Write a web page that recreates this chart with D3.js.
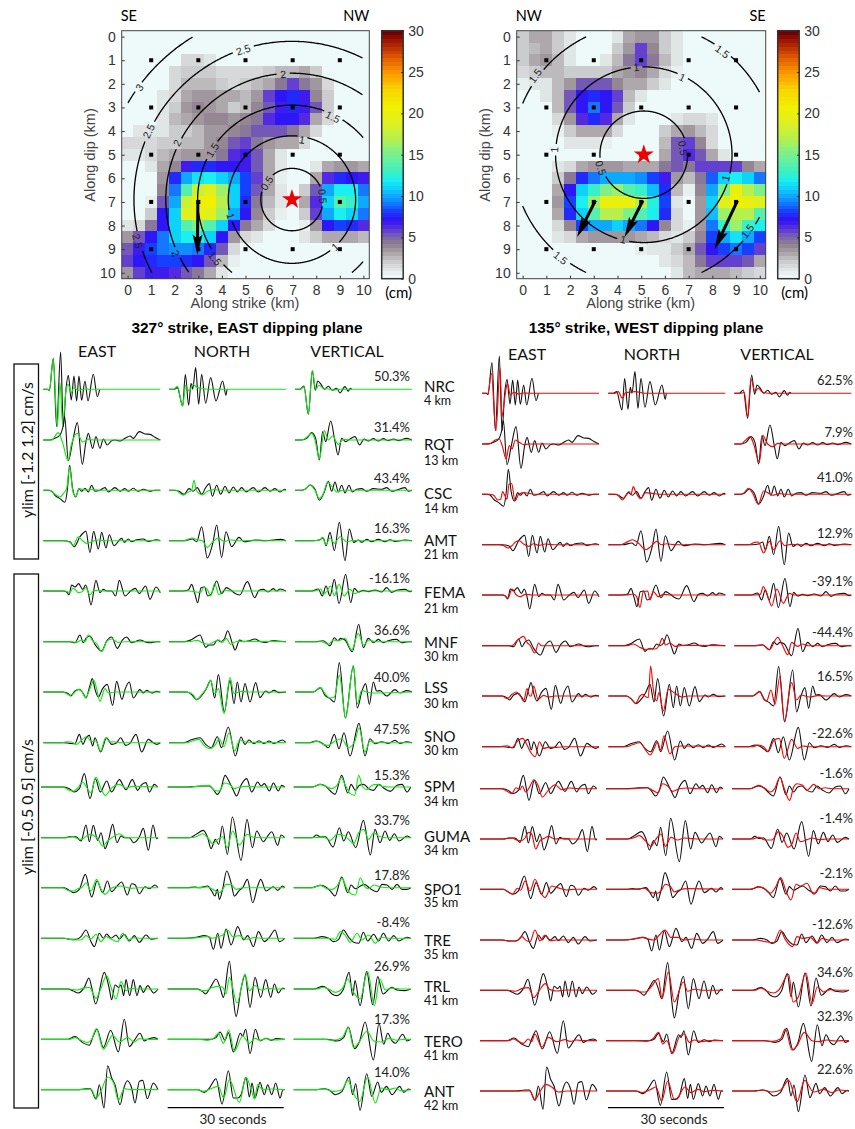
<!DOCTYPE html>
<html>
<head>
<meta charset="utf-8">
<title>Slip models and waveform fits</title>
<script src="https://cdn.jsdelivr.net/npm/d3@7"></script>
<style>
  html, body { margin: 0; background: #fff; }
  svg { display: block; }
</style>
</head>
<body>
<div class="canvas"></div>
<script>
// slip in cm, rows are along dip, columns along strike, 0.5 km grid
const slipEast = [
  [0,0,0,0,0,0,0,0,0,0,0,0,0,0,0,0,0,0,0,0,0],
  [0,0,0,0,0,0,0,0,0,0,0,0,0,0,0,0,0,0,0,0,0],
  [0,0,0,0,0,1.5,1.5,1,0,0,0,0,0,0,0,0,0,0,0,0,0],
  [0,0,0,0,1.5,2,2,2,1.5,1.5,1.5,1.5,2,2.5,2.5,3,2,0,0,0,0],
  [0,0,0,0,1.5,2.5,2.5,2.5,2,1.5,2,2.5,3,4.5,5.5,4.5,3.5,1.5,0,0,0],
  [0,0,0,1,1.5,3,3.5,3.5,3,3,2.5,3.5,5.5,7,7.5,6.5,4,2,0,0,0],
  [0,0,0,1,2,3.5,3.8,3.5,3,2,2.5,4,5,6.5,7.5,6.5,5,2,0,0,0],
  [0,0,0,1,2.5,3,3.5,4,4,3.5,4,4.5,6,7,7,6,3,1.5,0,0,0],
  [0,1,1,1,2,2,2.5,3.5,3.5,4,4.5,5,5,5,4.5,3,1.5,0,0,0,0],
  [1.2,1.2,1.5,2,2,2.5,2.5,3.5,4,5,5.5,4.5,3.5,3,3,1.5,0,0,0,0,0],
  [1,1,1.5,2.5,3,3.5,3.5,3.5,4.5,6,6.5,5,3,1,0,0,0,0,0,0,0],
  [0,0,1,3,4,6.5,7.5,7.5,7,7,6.5,5,3,1,0,0,1,3,3.5,3.5,3],
  [0,0,0,3.5,7.5,10,11.5,12,11,10,8,5.5,3,0.5,0,0,3,6,7.5,7,6.5],
  [0,0,0,4,9,14,18,19,16,11,8,5,3,1,0,2,5,10,12,12,9],
  [0,0,0.5,5,10,18,20,21,17,11,7.5,4.5,2.5,1,0,3,6,11,14,13,10],
  [0,0,2,7,11,19,20,19,16,10,7,4,2,0.5,0,2,5.5,10,12,11,9],
  [1,1.5,4.5,7,11,14,15,14,11,7,4.5,3,1.5,0,0,0.5,3.5,7,8,7.5,6],
  [3.5,5,7,9,11,12,12,11,7,3.5,1.5,1,0,0,0,1,2,3,3,3,2.5],
  [5,6.5,8,9,9.5,9.5,9,7.5,5,1.5,0,0,0,0,0,0,0,0,0,0,0],
  [5.5,7,7.5,8,8,7.5,7,5,2.5,0.5,0,0,0,0,0,0,0,0,0,0,0],
  [3.5,5.5,6.5,6.5,6,5,4.5,3,1,0,0,0,0,0,0,0,0,0,0,0,0]
];
const slipWest = [
  [2,3,3,2,1,0,0,0,1,3,3.5,3.5,2,1,0,0,0,0,0,0,0],
  [2,2.5,3,2,1,0,0,0,2,3.5,5.5,4,2,1,0,0,0,0,0,0,0],
  [2,3,3.5,2.5,1,0,0,1,2.5,4.5,5.5,4.5,2.5,1,0,0,0,0,0,0,0],
  [1.5,2,2.5,2.5,2,2,2,2,3,3.5,4,3,1.5,0.5,0,0,0,0,0,0,0],
  [0.5,1,1,2.5,3.5,5,5,5,4,3,3,2,1,0,0,0,0,0,0,0,0],
  [0,0,1,2.5,5,7,7.5,7,5.5,2.5,1,0,0,0,0,0,0,0,0,0,0],
  [0,0,0,2.5,5,7,9,7,5,2,0,0,0,0,0,0,0,0,0,0,0],
  [0,0,0,1.5,3.5,6,7.5,6,3,1,0,0,0,1,1.5,1.5,1,0,0,0,0],
  [0,0,0,0.5,2,3,3,3,1.5,0,0,0,2,3,3.5,2.5,1.5,0,0,0,0],
  [0,0,0,0,1,1,1,0.5,0,0,0,0,2.5,5,5.5,4,1.5,0,0,0,0],
  [0,0,0,0,0,0,0,0,0,0,0,0,3,5,6,5,3,1,0,0,0],
  [0,0,0,1,1.5,3,3.5,3.5,3.5,3,3,3,4.5,5,4.5,5.5,5.5,5.5,5.5,4,3],
  [0,0,0,2,4.5,7.5,9,10,10,10,9.5,8,6.5,3.5,2.5,4.5,8.5,11,12,11,9],
  [0,0,0,3,7,11,13,15,16,14,13,10.5,7.5,2.5,0.5,4,10,15,20,17,15],
  [0,0,0,3.5,8,12,16,20,20,20,17,12.5,8,1,0,3.5,11,19,21,20,19],
  [0,0,0,3,7.5,11,14,17,17,15,14,12,7.5,1.5,0,3.5,10.5,16,17,17,14],
  [0,0,0,1.5,4,8,10,10,11,10,9,7,4,1.5,0.5,3.5,9,13,16,13,12],
  [0,0,0,1,1.5,3,3.5,3.5,3.5,3.5,3,2.5,1.5,1,2,4,8,10,11.5,10,8],
  [0,0,0,0,0,0,0,0,0,0,0.5,1,1,2,3,5,7,8,9,8,5.5],
  [0,0,0,0,0,0,0,0,0,0,0,0,1,1.5,2.5,4.5,5.5,5.5,5.5,5,3],
  [0,0,0,0,0,0,0,0,0,0,0,0,0,1,2.5,3,3,3,2.5,2,1.5]
];

const kmTicks = [0,1,2,3,4,5,6,7,8,9,10];
const slipTicks = [0,5,10,15,20,25,30];
const nodeKm = [1,3,5,7,9];
// rupture time contours (s) and their radius on the fault (km)
const ringTimesEast = [0.5,1,1.5,2,2.5,3];
const ringRadiiEast = [1.32,2.7,4,5.35,6.7,8.07];
const ringTimesWest = [0.5,1,1.5];
const ringRadiiWest = [1.85,3.72,5.55];
// contour label: time, along strike, along dip
const ringLabelsEast = [[3,0.5,2.15],[2.5,0.9,4],[2.5,4.9,0.56],[2.5,0.42,8.66],[2,2.1,4.5],[2,6.6,1.6],[2,2.04,9.18],
  [1.5,3.6,4.8],[1.5,8.7,3.4],[1.5,3.7,9.4],[1,7.4,4.37],[1,4.37,7.6],[1,8.8,8.9],[0.5,5.9,6.2],[0.5,8.27,6.76]];
const ringLabelsWest = [[1.5,0.53,1.66],[1,4.8,1.3],[1,6.73,1.73],[1.5,8.42,0.63],[0.5,6.76,4.72],[1,1.34,4.79],
  [0.5,3.3,5.56],[1,8.56,5.99],[1.5,9.48,8.24],[1,4.24,8.59],[1.5,1.6,9.37]];
// hypocentre and slip vectors, km
const hypoEast = [6.97,6.9];
const hypoWest = [5.11,5];
const slipVecEast = [[2.98,6.94,2.96,9.23]];
const slipVecWest = [[3.07,6.94,2.3,8.48],[5.07,6.94,4.3,8.48],[9.06,6.94,8.1,8.99]];

const stations = ['NRC','RQT','CSC','AMT','FEMA','MNF','LSS','SNO','SPM','GUMA','SPO1','TRE','TRL','TERO','ANT'];
const distances = [4,13,14,21,21,30,30,30,34,34,35,35,41,41,42];
const fitEast = ['50.3%','31.4%','43.4%','16.3%','-16.1%','36.6%','40.0%','47.5%','15.3%','33.7%','17.8%','-8.4%','26.9%','17.3%','14.0%'];
const fitWest = ['62.5%','7.9%','41.0%','12.9%','-39.1%','-44.4%','16.5%','-22.6%','-1.6%','-1.4%','-2.1%','-12.6%','34.6%','32.3%','22.6%'];

// waveforms digitised off a 3x blowup as t,amp,t,amp... turning points
// t: 345 units = 30 s. amp: 3 units = 1 pixel of trace height
const obsE = [
  [0,0,12,0,18,-4,30,92,40,-112,52,112,60,-112,68,0,75,42,84,-32,92,40,100,-35,107,40,115,-33,125,25,134,-35,150,45,162,-22,169,0],
  [0,0,20,0,35,5,50,15,60,45,64,70,75,-62,88,-5,102,52,117,-73,128,-5,135,20,148,-25,158,10,170,-25,180,3,192,-15,205,-2,215,0,230,-3,245,5,260,12,270,5,288,25,305,18,320,17,335,8,351,0],
  [0,0,15,0,25,-3,35,-15,50,-25,65,-36,72,0,79,75,88,5,97,-20,107,5,115,-3,125,6,135,-5,145,15,155,-3,170,0,185,8,195,-5,215,8,230,-3,245,5,255,-3,270,6,285,-3,300,3,320,-3,335,0,351,0],
  [0,0,60,0,80,-3,93,-18,110,12,128,28,140,-36,151,28,165,-25,175,25,188,-22,198,18,212,-15,235,7,243,-5,255,5,265,-3,280,3,300,5,315,-2,340,3,351,0],
  [0,0,60,0,70,-3,77,-12,85,18,95,12,106,22,118,5,127,18,135,-5,143,-42,158,32,170,-5,180,5,190,0,205,0,217,-15,228,32,245,-15,262,0,276,8,288,-8,307,15,320,-25,338,12,351,-5],
  [0,0,80,0,95,-3,110,20,120,-3,128,10,140,17,155,-8,175,-28,190,2,205,14,222,-20,237,5,250,14,265,-3,275,0,290,5,310,-2,320,-3,340,0,351,0],
  [0,0,60,0,75,-5,82,-12,95,3,108,8,120,-5,128,-18,140,20,147,40,156,5,165,-15,178,10,192,23,208,-40,220,32,236,-22,246,10,258,30,270,-18,290,7,300,-3,310,5,325,-3,340,2,351,0],
  [0,0,60,0,80,-2,95,-3,108,25,119,-5,127,12,138,22,148,-10,155,15,172,-28,190,15,205,-5,220,0,232,15,247,-8,260,-2,278,25,295,-28,315,10,330,0,340,-5,351,0],
  [0,0,70,0,85,-5,99,-15,115,-5,130,40,147,-35,163,25,178,-15,197,18,212,-15,235,22,255,-8,274,22,290,-10,300,5,315,13,325,-15,340,8,350,0],
  [0,0,70,0,85,3,105,3,120,-10,135,38,145,-12,157,37,170,-8,180,15,192,-33,203,-5,215,40,228,-15,240,5,250,0,265,0,278,-15,295,2,307,28,322,-38,336,38,347,-3,351,0],
  [0,0,70,0,85,-8,99,-15,115,-5,133,40,152,-28,168,20,185,-15,199,20,212,-12,228,5,242,17,259,-22,272,12,283,8,295,-18,312,3,325,-3,342,8,351,0],
  [0,0,70,0,85,-3,105,-3,120,5,135,25,150,-10,160,-25,175,15,187,0,197,13,210,0,225,10,235,-2,250,12,265,-8,280,8,295,-12,315,10,330,-3,350,0],
  [0,0,80,0,95,-5,112,-12,130,5,144,33,152,5,164,-45,190,50,205,0,212,-32,222,12,233,5,240,12,248,-20,255,28,266,-20,277,28,288,-20,297,10,307,-10,320,10,338,-12,351,0],
  [0,0,80,0,102,8,125,-10,145,-18,155,5,168,30,187,-25,209,27,232,-38,250,60,265,-22,280,-3,297,18,310,-5,320,0,340,5,351,0],
  [0,0,110,0,135,3,148,3,165,-28,175,15,189,-55,200,72,212,35,222,15,237,-45,250,10,259,27,272,5,282,-40,295,25,305,28,319,-27,337,20,351,0]
];
const obsN = [
  [0,0,15,0,25,5,41,-50,49,44,59,-48,66,18,71,0,80,65,89,-45,98,45,110,-42,125,35,141,-35,161,25,171,-18,174,0],
  null,
  [0,0,15,0,30,-3,45,-12,60,5,72,-3,85,8,98,-12,110,8,121,20,130,-18,143,15,155,-12,168,12,180,-8,193,10,205,-5,218,8,231,-5,253,8,268,-5,288,8,303,-3,318,5,333,-5,348,3,351,0],
  [0,0,45,0,70,5,83,-3,98,42,115,-52,132,-5,143,47,158,-50,171,27,188,-18,210,10,225,-3,260,2,290,0,335,4,351,0],
  [0,0,40,0,58,3,68,20,78,-10,86,-35,96,10,107,12,116,-15,126,-10,143,30,158,-8,172,10,185,3,195,-5,212,-12,235,28,257,-20,270,2,283,5,297,-3,313,7,323,0,333,6,351,0],
  [0,0,45,0,65,5,93,20,110,-17,120,-10,133,-10,145,5,155,0,166,8,176,33,190,-5,198,-25,212,5,225,0,240,3,258,8,275,0,290,-2,310,3,325,2,351,0],
  [0,0,55,0,70,-10,83,-23,100,-8,112,10,125,35,137,-18,148,52,166,-60,183,35,195,-35,205,30,216,-30,228,25,243,-30,260,28,273,-17,290,3,300,-3,315,5,330,-2,351,0],
  [0,0,45,0,65,8,93,15,110,-5,127,-15,145,18,157,-15,178,47,199,-40,216,17,228,-5,240,8,255,-3,270,6,285,-3,300,5,315,-2,340,8,351,0],
  [0,0,60,0,100,3,125,3,135,-5,149,-22,160,-5,172,35,185,15,197,-10,207,-27,220,5,237,25,252,-15,270,15,280,3,290,10,305,-12,317,12,332,-12,342,5,351,0],
  [0,0,65,0,85,10,107,22,120,0,130,-33,143,-5,153,-20,164,35,179,-50,194,62,220,-68,238,55,254,-30,267,20,287,-12,300,5,312,18,330,-23,340,8,351,0],
  [0,0,60,0,80,2,95,0,120,5,132,-10,142,-25,149,-5,155,-35,165,-3,177,50,190,15,200,-25,215,-8,225,0,239,25,255,-45,270,5,279,25,295,-10,317,3,330,-8,345,5,351,0],
  [0,0,50,0,85,3,110,8,125,3,137,-33,150,15,160,-30,175,28,190,-20,210,35,228,-5,240,8,257,-25,272,20,290,-10,305,3,322,25,335,-10,351,0],
  [0,0,90,0,105,-8,113,-15,130,8,145,30,157,5,167,-25,185,83,197,-30,205,-83,220,0,232,42,247,-55,262,35,279,-25,294,28,309,-25,320,15,332,-12,345,3,351,0],
  [0,0,90,0,130,0,145,5,157,22,172,-3,182,20,197,-38,218,18,225,10,234,30,247,-43,263,30,277,-5,295,3,310,-3,325,2,351,0],
  [0,0,90,0,110,-8,125,5,145,33,163,-43,182,57,197,-25,210,-25,220,-15,235,37,245,-22,253,20,262,-25,277,22,290,-15,300,15,312,-15,324,20,337,-25,346,0,351,0]
];
const obsV = [
  [0,0,15,0,27,10,40,-75,52,55,61,-3,68,25,78,15,88,0,100,9,112,-3,125,3,135,-11,150,8,160,-6,166,3,170,0],
  [0,0,20,0,35,5,50,22,62,5,73,-60,83,25,92,-5,107,57,120,-5,129,-45,140,5,152,-5,165,3,180,10,194,-15,207,3,220,-3,235,4,250,-3,265,4,280,-2,295,3,310,-2,335,5,351,0],
  [0,0,20,0,30,3,45,16,60,3,73,-30,88,-5,100,27,110,-3,120,25,130,-5,140,15,150,-8,162,15,172,-5,185,3,200,5,215,-3,235,5,260,3,275,8,290,-3,330,8,340,-3,351,0],
  [0,0,55,0,75,3,85,8,93,-15,105,25,118,-30,133,55,150,-60,163,35,176,-5,190,2,200,-5,215,4,230,-3,250,4,270,-3,285,3,300,-2,330,2,351,0],
  [0,0,50,0,70,6,82,-15,93,15,105,-15,118,35,132,-38,152,50,167,-35,178,8,190,-3,205,2,220,-2,240,3,260,-3,275,10,290,-4,305,2,330,5,345,-2,351,0],
  [0,0,60,0,85,3,105,-12,118,12,128,3,137,10,150,5,172,-30,191,52,205,-18,220,10,235,-3,250,7,265,-3,280,3,305,7,320,-3,340,0,351,0],
  [0,0,55,0,62,3,76,13,90,-10,105,-20,118,-30,133,88,151,-78,175,78,187,-48,200,0,212,25,223,-37,235,30,245,3,255,4,275,-12,300,7,315,-3,335,4,351,0],
  [0,0,45,0,62,5,75,2,90,-8,100,-15,118,25,132,-18,147,30,165,-40,192,58,210,-40,225,12,240,-3,260,3,280,-2,300,7,315,-2,335,3,351,0],
  [0,0,55,0,80,8,95,3,110,-12,124,-22,144,35,162,-18,172,8,185,-10,197,5,210,8,225,-5,240,-10,255,8,270,-3,290,-13,310,5,325,8,340,-15,351,0],
  [0,0,55,0,69,8,80,2,95,3,118,-28,137,30,150,-10,164,18,186,-30,209,52,230,-52,244,25,259,-15,274,20,288,-8,302,12,316,-10,340,5,351,0],
  [0,0,55,0,80,7,95,3,110,-10,124,-25,144,32,162,-15,172,8,185,-3,200,5,212,10,230,-3,250,-12,265,10,280,8,295,-5,310,10,325,-5,340,-5,351,0],
  [0,0,60,0,85,5,105,0,120,-10,135,-3,149,25,165,3,180,-12,195,-15,209,18,222,-8,240,12,255,-8,269,15,285,-8,300,8,315,-8,340,3,351,0],
  [0,0,60,0,87,8,100,2,115,-15,129,-20,148,-3,166,50,177,-20,184,25,199,-50,219,52,237,-47,252,37,268,-15,294,5,310,-3,334,-5,351,0],
  [0,0,70,0,100,0,130,-5,150,5,164,37,183,-28,198,-5,214,52,239,-62,256,48,270,-15,282,18,295,-5,305,-12,327,15,340,-5,351,0],
  [0,0,65,0,90,3,105,0,125,-15,145,-5,166,38,177,-15,186,18,199,-62,219,48,234,-20,252,23,263,-8,278,10,295,-15,318,10,330,-8,345,2,351,0]
];
// synthetics, east dipping plane (green)
const eastE = [
  [0,0,12,0,18,-4,30,92,42,-112,50,20,58,-105,68,-5,74,15,84,-10,92,5,105,-3,125,1,140,0,351,0],
  [0,0,25,0,45,22,58,-8,74,-62,84,-15,102,20,118,-6,135,2,150,0,351,0],
  [0,0,20,0,35,-12,50,-20,60,-10,70,5,79,70,88,0,97,-18,108,5,125,1,150,2,175,0,351,0],
  [0,0,65,0,80,-5,90,-14,105,12,115,3,130,-8,145,-3,165,2,190,0,351,0],
  [0,0,65,0,80,-5,88,8,95,5,105,-5,115,-3,128,10,140,-12,150,0,165,2,185,0,351,0],
  [0,0,80,0,100,-2,115,5,125,0,135,20,150,0,160,-5,175,-30,190,0,205,8,225,-2,250,0,351,0],
  [0,0,60,0,78,-10,90,-5,105,8,115,3,127,-17,140,10,152,35,160,10,170,-28,185,10,195,-3,215,0,351,0],
  [0,0,55,0,70,3,85,2,100,-5,115,8,130,18,145,3,158,5,172,-25,187,15,200,2,212,3,235,0,351,0],
  [0,0,65,0,85,-10,98,-12,110,-3,125,15,138,-3,150,-18,165,30,180,-5,193,-25,210,-5,235,8,255,-3,275,2,351,0],
  [0,0,75,0,95,3,110,-3,122,-5,140,8,150,10,160,5,170,-2,185,-25,200,-10,220,5,235,12,255,0,351,0],
  [0,0,65,0,85,-10,98,-10,110,-3,122,0,135,15,150,-10,167,25,180,-5,193,-20,210,-2,240,5,270,-2,295,0,351,0],
  [0,0,70,0,100,-5,120,-5,135,8,150,-2,165,12,180,-10,195,5,210,-2,230,-10,245,15,262,-5,280,2,300,0,351,0],
  [0,0,85,0,108,-3,125,2,145,5,165,-28,178,-3,197,40,210,5,225,-30,240,22,255,-5,270,2,290,0,351,0],
  [0,0,85,0,102,5,125,-5,140,-10,152,0,166,32,187,-30,215,12,235,-8,260,5,280,-8,295,2,310,0,351,0],
  [0,0,125,0,150,2,165,-25,178,-8,200,38,218,20,232,-32,250,3,270,0,351,0]
];
const eastN = [
  [0,0,15,0,25,10,41,-50,50,12,60,-5,72,15,85,5,100,3,120,0,351,0],
  null,
  [0,0,20,0,43,-15,58,-5,68,0,75,30,82,0,100,-14,115,-3,135,2,160,0,351,0],
  [0,0,45,0,70,8,85,3,100,0,115,-20,130,-5,148,8,165,-2,185,2,210,0,351,0],
  [0,0,60,0,82,-3,95,-5,105,12,115,5,125,-15,137,22,150,-12,165,3,185,0,351,0],
  [0,0,60,0,85,4,100,-3,120,-8,135,0,150,5,160,-3,172,10,185,-8,200,0,220,1,351,0],
  [0,0,55,0,72,-8,83,-22,100,-5,115,15,125,35,137,-5,148,10,165,-65,183,43,195,-5,215,2,240,0,351,0],
  [0,0,55,0,70,5,90,10,105,-8,120,-18,140,-5,150,12,165,-12,180,30,197,-25,212,8,230,2,255,1,351,0],
  [0,0,70,0,125,5,140,-10,155,-12,170,12,185,8,200,-5,215,0,240,2,275,0,351,0],
  [0,0,65,0,85,3,105,12,120,0,135,-18,150,-5,165,3,178,-30,195,20,215,-22,238,10,255,2,275,0,351,0],
  [0,0,80,0,120,2,140,-8,155,-15,165,-5,175,10,190,10,205,-5,225,0,351,0],
  [0,0,60,0,100,3,120,5,135,0,150,5,165,10,180,25,195,5,215,8,235,-3,260,2,285,0,351,0],
  [0,0,85,0,100,-5,115,-5,130,3,150,8,165,5,175,-15,185,35,208,-42,232,45,245,-5,262,10,280,-3,300,2,320,0,351,0],
  [0,0,90,0,120,-3,140,5,152,18,167,-12,183,28,200,-35,225,10,245,-12,262,3,275,-3,295,2,315,-2,351,0],
  [0,0,90,0,108,-5,130,3,152,10,168,-25,185,30,215,-38,235,37,252,-5,260,-28,270,15,285,0,305,2,351,0]
];
const eastV = [
  [0,0,15,0,27,6,40,-75,52,57,62,0,72,12,85,3,100,1,115,-2,135,0,351,0],
  [0,0,20,0,35,8,50,20,60,0,73,-57,88,28,100,0,113,12,130,-13,145,2,165,0,351,0],
  [0,0,20,0,30,3,45,15,60,0,73,-25,85,-10,98,25,112,10,125,-5,145,0,351,0],
  [0,0,55,0,75,3,82,10,93,-12,105,8,118,-8,135,12,155,-3,175,1,200,0,351,0],
  [0,0,60,0,78,6,85,-10,95,-2,107,15,118,-14,132,20,147,-15,165,5,180,-8,195,0,351,0],
  [0,0,60,0,80,0,100,-8,115,5,130,3,150,10,170,-25,190,25,205,-10,222,5,240,0,351,0],
  [0,0,55,0,76,14,90,-5,105,-18,118,-15,133,50,152,-78,175,80,187,-35,200,5,215,0,235,-3,351,0],
  [0,0,50,0,65,5,85,-5,100,-8,120,5,140,12,160,-15,180,5,192,45,210,-28,225,5,240,0,351,0],
  [0,0,55,0,80,8,100,0,115,-5,130,5,143,28,155,5,170,-20,183,-25,195,35,207,0,220,-8,235,5,250,8,265,2,290,0,351,0],
  [0,0,60,0,90,2,110,-8,130,10,148,8,165,-5,180,-18,195,15,210,25,225,-5,240,15,255,5,275,0,351,0],
  [0,0,55,0,80,7,100,-3,115,-5,130,5,145,28,158,0,172,-18,185,-22,200,30,212,5,225,-3,240,8,260,2,285,0,351,0],
  [0,0,70,0,100,0,125,-3,140,20,155,8,170,-12,190,15,205,-5,225,10,245,-15,262,3,285,0,351,0],
  [0,0,70,0,87,5,105,0,125,-10,145,0,162,30,180,-10,199,-30,222,52,242,-50,258,30,275,-3,295,3,320,0,351,0],
  [0,0,90,0,115,-3,145,5,164,35,180,-25,195,-10,220,25,240,-5,262,-8,285,3,310,-3,330,0,351,0],
  [0,0,70,0,90,2,120,-5,145,0,162,28,180,-12,198,-35,222,38,245,-40,262,5,285,0,305,5,320,-3,351,0]
];
// synthetics, west dipping plane (red)
const westE = [
  [0,0,10,0,18,0,28,60,42,-112,54,75,60,-70,70,0,76,30,85,-5,95,3,110,-2,125,1,140,0,351,0],
  [0,0,25,2,40,12,52,15,62,-10,72,-45,82,-5,90,-15,100,12,115,3,125,-2,140,0,351,0],
  [0,0,25,0,35,-3,47,-17,56,-15,62,8,69,-5,75,-15,81,30,89,32,99,-20,110,0,125,5,140,3,160,0,351,0],
  [0,0,50,0,65,-3,78,-10,90,-3,100,8,112,12,125,2,140,-5,155,3,170,-2,190,2,215,0,351,0],
  [0,0,65,0,78,-10,90,18,103,0,115,-5,130,2,150,0,351,0],
  [0,0,75,0,90,0,105,15,125,28,135,10,145,0,158,-22,170,8,178,0,190,0,351,0],
  [0,0,60,0,75,-8,90,5,102,12,115,0,125,-15,135,22,143,0,148,0,155,30,168,-10,185,2,200,-3,220,0,351,0],
  [0,0,50,0,75,3,90,-3,105,15,122,25,135,5,145,-15,160,-30,172,15,185,-5,200,-2,225,-2,250,0,351,0],
  [0,0,65,0,85,-10,95,-15,108,3,120,-3,127,8,137,-10,146,0,162,27,175,8,187,-25,205,-5,225,12,245,-3,270,2,300,0,351,0],
  [0,0,70,0,95,3,115,-5,125,-5,135,3,145,20,155,15,167,-30,180,-5,195,3,205,8,225,0,251,2,275,0,351,0],
  [0,0,70,0,85,-8,97,-15,112,3,122,-3,135,25,150,-5,165,30,180,-5,195,-25,215,10,232,5,260,-2,285,0,351,0],
  [0,0,65,0,90,-3,110,-3,125,10,140,-2,150,-5,165,30,180,-3,195,15,210,-2,230,0,351,0],
  [0,0,85,0,105,-3,125,5,145,8,162,-22,175,-5,196,20,210,2,230,-2,260,1,351,0],
  [0,0,85,0,100,5,115,-2,130,-8,145,5,155,-3,165,20,175,0,185,-20,205,10,230,-3,255,3,270,-2,290,2,310,0,351,0],
  [0,0,125,0,150,0,165,-27,178,-5,198,20,215,12,235,-3,260,0,351,0]
];
const westN = [
  [0,0,20,0,30,5,42,-15,52,2,65,3,80,5,95,3,110,0,351,0],
  null,
  [0,0,25,0,43,-17,55,0,62,8,68,0,75,23,83,5,97,-13,112,5,135,2,160,0,351,0],
  [0,0,35,0,60,10,72,15,90,5,113,-15,128,-5,145,10,160,0,175,3,200,0,351,0],
  [0,0,55,0,75,3,85,-5,95,-37,105,10,118,12,125,-15,135,10,150,-5,165,2,185,0,351,0],
  [0,0,55,0,75,5,95,-5,115,-12,125,-8,140,-10,152,0,162,22,172,2,185,8,200,-2,220,1,351,0],
  [0,0,55,0,70,-10,82,-22,95,0,103,5,112,-2,120,-5,127,90,135,20,145,-15,152,10,165,-45,180,20,200,8,220,-3,240,0,351,0],
  [0,0,55,0,70,5,95,12,112,-10,125,-25,140,0,147,15,157,-10,167,33,185,-22,200,0,220,2,351,0],
  [0,0,70,0,125,3,140,-5,155,-12,170,15,185,8,200,-8,220,0,245,2,275,0,351,0],
  [0,0,65,0,82,3,100,10,118,-5,135,-22,148,-3,165,15,178,-22,195,5,215,-3,235,3,260,1,280,0,351,0],
  [0,0,80,0,115,3,135,-10,155,-12,165,-5,178,15,192,10,205,-8,220,-2,245,2,351,0],
  [0,0,60,0,90,5,110,8,130,2,145,0,160,15,177,30,195,8,215,8,235,0,260,3,290,0,351,0],
  [0,0,85,0,105,-5,118,-5,135,10,157,35,168,-25,187,55,205,-35,232,25,245,-3,265,3,290,0,351,0],
  [0,0,90,0,120,-2,140,5,158,25,170,-10,182,0,200,-38,220,12,235,20,250,-5,265,2,285,-3,310,0,351,0],
  [0,0,90,0,108,-5,135,5,150,12,167,-30,185,30,205,-25,215,-20,237,12,255,-5,275,5,295,-2,320,2,351,0]
];
const westV = [
  [0,0,20,0,30,3,40,-70,50,43,62,5,72,15,85,3,105,0,351,0],
  [0,0,20,0,32,10,47,22,58,0,75,-55,86,25,100,0,116,-8,130,2,145,0,351,0],
  [0,0,20,0,30,5,42,18,55,3,72,-30,88,10,100,5,115,-3,135,2,160,0,351,0],
  [0,0,45,0,60,7,72,8,88,-25,105,10,118,-15,137,12,152,-3,170,1,190,0,351,0],
  [0,0,60,0,78,2,87,25,100,-3,112,-33,128,18,147,-25,165,5,180,0,351,0],
  [0,0,60,0,85,2,105,-12,130,25,145,0,160,-27,172,10,190,-2,205,5,222,0,351,0],
  [0,0,55,0,76,14,90,-12,97,-15,110,18,122,-25,137,60,150,-75,172,40,187,-12,200,3,225,-3,250,1,275,0,351,0],
  [0,0,55,0,72,5,88,0,102,-15,118,18,135,25,150,-35,172,22,190,-5,205,2,225,0,351,0],
  [0,0,55,0,80,10,100,0,115,-10,128,0,144,35,155,5,173,-35,185,5,195,15,212,10,225,-5,245,13,262,0,280,3,300,0,351,0],
  [0,0,60,0,80,5,100,-3,120,-3,140,22,150,12,168,-25,180,-15,192,18,205,-8,225,-2,240,3,260,-2,285,0,351,0],
  [0,0,55,0,80,8,100,0,115,-12,130,5,146,35,162,-5,177,-32,192,15,205,10,225,18,245,-15,262,5,285,0,351,0],
  [0,0,70,0,100,-5,125,-8,145,30,158,5,182,-20,195,10,212,5,235,8,255,-10,270,5,290,0,351,0],
  [0,0,70,0,87,7,105,-3,125,-8,140,0,170,48,183,-35,199,-20,222,52,240,-40,256,10,275,-5,295,2,320,0,351,0],
  [0,0,90,0,120,-2,145,5,160,35,180,-28,195,-15,217,25,240,0,260,-3,285,2,310,-1,330,0,351,0],
  [0,0,70,0,90,3,120,-3,145,2,170,32,195,-32,218,32,245,-3,275,5,300,-5,320,3,351,0]
];

const width = 855, height = 1129;
const helv = '"Liberation Sans", Arial, sans-serif';
const myriad = 'Lato, "Noto Sans", sans-serif';

const svg = d3.select('.canvas')
  .append('svg')
    .attr('width', width)
    .attr('height', height)
    .attr('viewBox', `0 0 ${width} ${height}`);

// the source image is a resampled bitmap, so the cells are a little soft
const blur = svg.append('defs').append('filter')
  .attr('id', 'soft')
  .attr('x', '-2%').attr('y', '-2%')
  .attr('width', '104%').attr('height', '104%');
blur.append('feGaussianBlur').attr('stdDeviation', 0.6);

// colour map: grey-purple at low slip then jet
const slipColor = d3.scaleLinear()
  .domain([0,1,2,3,4,5,6,7,8,9,10,11,12,13,15,17,19,21,23,25,27,29,30])
  .range(['#eef9f9','#dfe4e5','#c9c9cb','#aaa2a7','#90808f','#7b63ad','#5a33dc','#3010f5','#1a3cff','#1274ff','#10a8ff','#10d4fa','#1cf2ee','#3cf0c0','#78f090','#b4f050','#e0f020','#f2f000','#f8d400','#fc9c00','#e05800','#a01800','#700000']);
const levels = 64;
const slipFill = v => slipColor(Math.round(v / 30 * (levels - 1)) / (levels - 1) * 30);

const drawSlipMap = opt => {
  const g = svg.append('g');
  const x = d3.scaleLinear().domain([-0.25, 10.25]).range([opt.x0, opt.x1]);
  const y = d3.scaleLinear().domain([-0.25, 10.25]).range([30.7, 278.7]);

  const cells = g.append('g').attr('filter', 'url(#soft)');
  opt.slip.forEach((row, r) => {
    cells.append('g').selectAll('rect')
      .data(row)
      .enter().append('rect')
        .attr('x', (d, c) => x(c * 0.5 - 0.25))
        .attr('y', y(r * 0.5 - 0.25))
        .attr('width', x(0.5) - x(0))
        .attr('height', y(0.5) - y(0))
        .attr('fill', d => slipFill(d))
        .attr('shape-rendering', 'crispEdges');
  });

  // grid nodes
  nodeKm.forEach(ny => {
    g.append('g').selectAll('rect')
      .data(nodeKm)
      .enter().append('rect')
        .attr('x', d => x(d) - 2)
        .attr('y', y(ny) - 2)
        .attr('width', 4)
        .attr('height', 4)
        .attr('fill', '#000');
  });

  // rupture time contours, broken where a label sits
  const [cx, cy] = opt.hypo;
  const line = d3.line()
    .defined(d => d[0] >= 0 && d[0] <= 10 && d[1] >= 0 && d[1] <= 10 &&
      !opt.labels.some(l => Math.hypot(l[1] - d[0], l[2] - d[1]) < (l[0] % 1 ? 0.42 : 0.24)))
    .x(d => x(d[0]))
    .y(d => y(d[1]));
  opt.radii.forEach(r => {
    const pts = d3.range(0, 360.5, 0.5).map(a => [cx + r * Math.cos(a * Math.PI / 180), cy + r * Math.sin(a * Math.PI / 180)]);
    g.append('path')
      .attr('d', line(pts))
      .attr('fill', 'none')
      .attr('stroke', '#000')
      .attr('stroke-width', 1.3);
  });
  g.selectAll('text.ring')
    .data(opt.labels)
    .enter().append('text')
      .attr('class', 'ring')
      .attr('transform', d => {
        let a = Math.atan2(d[2] - cy, d[1] - cx) * 180 / Math.PI + 90;
        if (a > 90) a -= 180;
        if (a < -90) a += 180;
        return `translate(${x(d[1])},${y(d[2])}) rotate(${a})`;
      })
      .attr('text-anchor', 'middle')
      .attr('dy', '0.36em')
      .attr('font-family', helv)
      .attr('font-size', 10.5)
      .attr('fill', '#222')
      .text(d => d[0]);

  // slip vectors
  opt.vectors.forEach(v => {
    const x0 = x(v[0]), y0 = y(v[1]), x1 = x(v[2]), y1 = y(v[3]);
    const len = Math.hypot(x1 - x0, y1 - y0);
    const ux = (x1 - x0) / len, uy = (y1 - y0) / len;
    const bx = x1 - ux * 20, by = y1 - uy * 20;
    g.append('line')
      .attr('x1', x0).attr('y1', y0)
      .attr('x2', bx + ux * 6).attr('y2', by + uy * 6)
      .attr('stroke', '#000')
      .attr('stroke-width', 3);
    g.append('path')
      .attr('d', `M${x1},${y1}L${bx - uy * 5},${by + ux * 5}L${bx + ux * 4},${by + uy * 4}L${bx + uy * 5},${by - ux * 5}Z`)
      .attr('fill', '#000');
  });

  g.append('path')
    .attr('d', d3.symbol(d3.symbolStar, 125)())
    .attr('transform', `translate(${x(opt.hypo[0])},${y(opt.hypo[1])})`)
    .attr('fill', '#f00000');

  // frame and axes
  const xAxis = d3.axisBottom(x).tickValues(kmTicks).tickSize(-3).tickPadding(6);
  const yAxis = d3.axisLeft(y).tickValues(kmTicks).tickSize(-3).tickPadding(6);
  [[`translate(0,278.7)`, xAxis], [`translate(${opt.x0},0)`, yAxis]].forEach(([tr, ax]) => {
    const a = g.append('g').attr('transform', tr).call(ax);
    a.selectAll('text').attr('font-family', helv).attr('font-size', 14).attr('fill', '#333');
    a.selectAll('line').attr('stroke', '#333');
    a.select('.domain').attr('stroke', 'none');
  });
  g.append('rect')
    .attr('x', opt.x0).attr('y', 30.7)
    .attr('width', opt.x1 - opt.x0).attr('height', 248)
    .attr('fill', 'none')
    .attr('stroke', '#444')
    .attr('stroke-width', 1);

  g.append('text')
    .attr('x', (opt.x0 + opt.x1) / 2 - 0.5).attr('y', 308)
    .attr('text-anchor', 'middle')
    .attr('font-family', helv).attr('font-size', 14.5).attr('fill', '#444')
    .text('Along strike (km)');
  g.append('text')
    .attr('transform', `translate(${opt.x0 - 27},155) rotate(-90)`)
    .attr('text-anchor', 'middle')
    .attr('font-family', helv).attr('font-size', 14.5).attr('fill', '#444')
    .text('Along dip (km)');
  g.append('text')
    .attr('x', opt.x0 - 1).attr('y', 21)
    .attr('font-family', myriad).attr('font-size', 14.5)
    .text(opt.leftEnd);
  g.append('text')
    .attr('x', opt.x1).attr('y', 21)
    .attr('text-anchor', 'end')
    .attr('font-family', myriad).attr('font-size', 14.5)
    .text(opt.rightEnd);
  g.append('text')
    .attr('x', opt.titleX).attr('y', 333)
    .attr('text-anchor', 'middle')
    .attr('font-family', helv).attr('font-size', 15.4).attr('font-weight', 'bold')
    .text(opt.title);

  // colour bar
  const c = d3.scaleLinear().domain([0, 30]).range([278.7, 30.7]);
  g.append('g').selectAll('rect')
    .data(d3.range(levels))
    .enter().append('rect')
      .attr('x', opt.barX)
      .attr('y', d => c((d + 1) / levels * 30))
      .attr('width', 21.5)
      .attr('height', 248 / levels + 0.5)
      .attr('fill', d => slipColor(d / (levels - 1) * 30))
      .attr('shape-rendering', 'crispEdges');
  g.append('rect')
    .attr('x', opt.barX).attr('y', 30.7)
    .attr('width', 21.5).attr('height', 248)
    .attr('fill', 'none')
    .attr('stroke', '#333')
    .attr('stroke-width', 1.5);
  const cAxis = d3.axisRight(c).tickValues(slipTicks).tickSize(-2).tickPadding(5);
  const ca = g.append('g').attr('transform', `translate(${opt.barX + 21.5},0)`).call(cAxis);
  ca.selectAll('text').attr('font-family', helv).attr('font-size', 14).attr('fill', '#333');
  ca.selectAll('line').attr('stroke', '#222');
  ca.select('.domain').attr('stroke', 'none');
  g.append('text')
    .attr('x', opt.barX + 17).attr('y', 298)
    .attr('text-anchor', 'middle')
    .attr('font-family', myriad).attr('font-size', 15)
    .text('(cm)');
};

drawSlipMap({ slip: slipEast, x0: 121.7, x1: 369.3, barX: 381.7, titleX: 247,
  radii: ringRadiiEast, times: ringTimesEast, labels: ringLabelsEast, hypo: hypoEast, vectors: slipVecEast,
  leftEnd: 'SE', rightEnd: 'NW', title: '327\u00b0 strike, EAST dipping plane' });
drawSlipMap({ slip: slipWest, x0: 516.7, x1: 765.7, barX: 777.7, titleX: 646,
  radii: ringRadiiWest, times: ringTimesWest, labels: ringLabelsWest, hypo: hypoWest, vectors: slipVecWest,
  leftEnd: 'NW', rightEnd: 'SE', title: '135\u00b0 strike, WEST dipping plane' });

// waveform panels
const baseLeft = [389.3,440,490.3,540.7,591,641.7,692,742.7,787,837.7,887.7,938.3,989,1039.3,1089.7];
const baseRight = [393.3,444,494.3,544.7,595,645.7,696,746.7,788.7,839,889.3,940,990.3,1040.7,1091];
const fitYLeft = [381,432,483,533,583,635,682,734,780,825,880,927,971,1024,1077];
const fitYRight = [385,437,482,538,586,637,681,738,778,823,878,929,977,1021,1074];
const nameY = [392,450,499,546,598,648,693,742,792,842,895,946,992,1047,1097];
const kmY = [405,465,513,559,613,661,708,755,806,855,907,959,1005,1060,1110];

const tScale = d3.scaleLinear().domain([0, 351]).range([0, 117]);
const ampScale = d3.scaleLinear().domain([-150, 150]).range([50, -50]);
const traceLine = d3.line()
  .x(d => tScale(d[0]))
  .y(d => ampScale(d[1]))
  .curve(d3.curveMonotoneX);
const pairs = a => d3.range(0, a.length, 2).map(i => [a[i], a[i + 1]]);

const drawTraces = opt => {
  const g = svg.append('g');
  stations.forEach((s, i) => {
    const starts = i < 8 ? opt.starts : opt.startsLow;
    [[obsE, opt.synE], [obsN, opt.synN], [obsV, opt.synV]].forEach(([obs, syn], col) => {
      if (!obs[i]) return;
      const p = g.append('g').attr('transform', `translate(${starts[col]},${opt.base[i]})`);
      p.append('path')
        .attr('d', traceLine(pairs(obs[i])))
        .attr('fill', 'none')
        .attr('stroke', '#111')
        .attr('stroke-width', 1.1);
      p.append('path')
        .attr('d', traceLine(pairs(syn[i])))
        .attr('fill', 'none')
        .attr('stroke', opt.color)
        .attr('stroke-width', 1.15);
    });
  });
  g.selectAll('text.fit')
    .data(opt.fits)
    .enter().append('text')
      .attr('class', 'fit')
      .attr('x', opt.fitX)
      .attr('y', (d, i) => opt.fitY[i])
      .attr('text-anchor', 'end')
      .attr('font-family', myriad)
      .attr('font-size', 13)
      .attr('fill', '#222')
      .text(d => d);
  ['EAST','NORTH','VERTICAL'].forEach((h, col) => {
    g.append('text')
      .attr('x', opt.headX[col]).attr('y', opt.headY)
      .attr('text-anchor', 'middle')
      .attr('font-family', myriad)
      .attr('font-size', 16)
      .attr('fill', '#111')
      .text(h);
  });
  g.append('line')
    .attr('x1', opt.barX).attr('x2', opt.barX + 116)
    .attr('y1', 1107.7).attr('y2', 1107.7)
    .attr('stroke', '#000')
    .attr('stroke-width', 1.3);
  g.append('text')
    .attr('x', opt.barLabelX).attr('y', 1124)
    .attr('text-anchor', 'middle')
    .attr('font-family', myriad)
    .attr('font-size', 13.5)
    .attr('fill', '#222')
    .text('30 seconds');
};

drawTraces({ base: baseLeft, starts: [43.3,169,295], startsLow: [41,167.7,293.7], synE: eastE, synN: eastN, synV: eastV,
  color: '#10e810', fits: fitEast, fitX: 410, fitY: fitYLeft, headX: [97,222,347], headY: 357, barX: 167.7, barLabelX: 233 });
drawTraces({ base: baseRight, starts: [482,608.3,734.3], startsLow: [480,606,732], synE: westE, synN: westN, synV: westV,
  color: '#f00808', fits: fitWest, fitX: 853, fitY: fitYRight, headX: [527,652,777], headY: 360, barX: 608, barLabelX: 674 });

// station names shared by both columns
svg.selectAll('text.name')
  .data(stations)
  .enter().append('text')
    .attr('class', 'name')
    .attr('x', 424)
    .attr('y', (d, i) => nameY[i])
    .attr('font-family', myriad)
    .attr('font-size', 15)
    .attr('fill', '#111')
    .text(d => d);
svg.selectAll('text.dist')
  .data(distances)
  .enter().append('text')
    .attr('class', 'dist')
    .attr('x', 424)
    .attr('y', (d, i) => kmY[i])
    .attr('font-family', myriad)
    .attr('font-size', 12.5)
    .attr('fill', '#111')
    .text(d => d + ' km');

// ylim boxes
[[364, 559, 'ylim [-1.2 1.2] cm/s', 450], [574, 1108, 'ylim [-0.5 0.5] cm/s', 807]].forEach(([y0, y1, label, mid]) => {
  svg.append('rect')
    .attr('x', 14).attr('y', y0)
    .attr('width', 24.5).attr('height', y1 - y0)
    .attr('fill', '#fff')
    .attr('stroke', '#111')
    .attr('stroke-width', 1.3);
  svg.append('text')
    .attr('transform', `translate(33,${mid}) rotate(-90)`)
    .attr('text-anchor', 'middle')
    .attr('font-family', myriad)
    .attr('font-size', 16)
    .attr('fill', '#111')
    .text(label);
});
</script>
</body>
</html>
